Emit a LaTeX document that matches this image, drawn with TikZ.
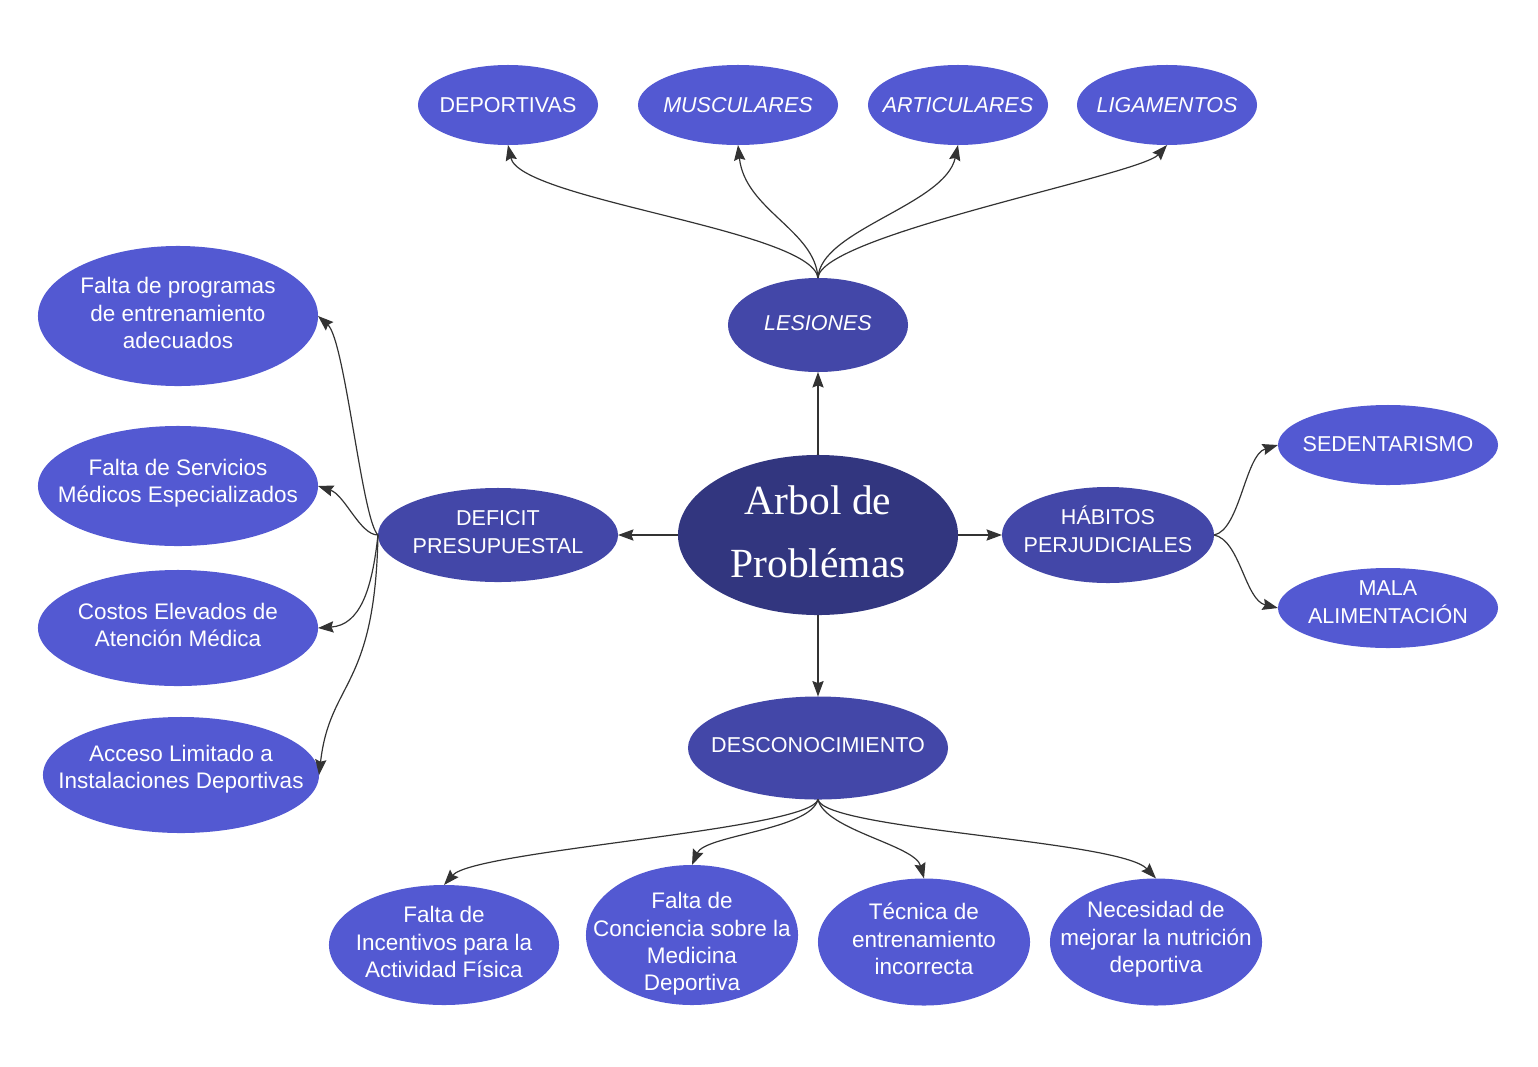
\documentclass[tikz,border=0pt]{standalone}
\usepackage{fontspec}
\setmainfont{Liberation Sans}
\newfontfamily\rootfont{Liberation Serif}
\usetikzlibrary{shapes.geometric,arrows.meta}
\definecolor{leafblue}{HTML}{5359D2}
\definecolor{midblue}{HTML}{4347A8}
\definecolor{rootblue}{HTML}{32367F}
\definecolor{edgegray}{HTML}{333333}
\begin{document}
\begin{tikzpicture}[x=0.025cm,y=-0.025cm,
  blob/.style={ellipse,draw=none,inner sep=0pt,outer sep=0pt},
  leaf/.style={blob,fill=leafblue},
  mid/.style={blob,fill=midblue},
  rootblob/.style={blob,fill=rootblue},
  captxt/.style={text=white,align=center,font=\fontsize{15.3}{19.5}\selectfont},
  txt/.style={captxt,yshift=2pt,font=\fontsize{16}{19.5}\selectfont},
  roottxt/.style={txt,font=\rootfont\fontsize{29.5}{44.8}\selectfont},
  link/.style={draw=edgegray,line width=0.85pt,-{Stealth[length=11pt,width=8pt,inset=1.5pt]}}]
\useasboundingbox (0,0) rectangle (1538,1066);
\node[rootblob,minimum width=7cm,minimum height=4cm,label={[roottxt]center:{Arbol de\\Problémas}}] (root) at (818,535) {};
\node[mid,minimum width=4.5cm,minimum height=2.35cm,label={[captxt,yshift=1.5pt]center:\textit{LESIONES}}] (lesiones) at (818,325) {};
\node[mid,minimum width=6cm,minimum height=2.35cm,label={[captxt,yshift=2pt]center:{DEFICIT\\PRESUPUESTAL}}] (deficit) at (498,535) {};
\node[mid,minimum width=5.3cm,minimum height=2.4cm,label={[captxt,yshift=4pt]center:{HÁBITOS\\PERJUDICIALES}}] (habitos) at (1108,535) {};
\node[mid,minimum width=6.5cm,minimum height=2.575cm,label={[captxt,yshift=2pt]center:DESCONOCIMIENTO}] (descon) at (818,748) {};
\node[leaf,minimum width=4.5cm,minimum height=2cm,label={[captxt]center:DEPORTIVAS}] (deportivas) at (508,105) {};
\node[leaf,minimum width=5cm,minimum height=2cm,label={[captxt]center:\textit{MUSCULARES}}] (musculares) at (738,105) {};
\node[leaf,minimum width=4.5cm,minimum height=2cm,label={[captxt]center:\textit{ARTICULARES}}] (articulares) at (958,105) {};
\node[leaf,minimum width=4.5cm,minimum height=2cm,label={[captxt]center:\textit{LIGAMENTOS}}] (ligamentos) at (1167,105) {};
\node[leaf,minimum width=5.5cm,minimum height=2cm,label={[captxt,yshift=1pt]center:SEDENTARISMO}] (sedentarismo) at (1388,445) {};
\node[leaf,minimum width=5.5cm,minimum height=2cm,label={[captxt,yshift=4pt]center:{MALA\\ALIMENTACIÓN}}] (mala) at (1388,608) {};
\node[leaf,minimum width=7cm,minimum height=3.5cm,label={[txt]center:{Falta de programas\\de entrenamiento\\adecuados}}] (programas) at (178,316) {};
\node[leaf,minimum width=7cm,minimum height=3cm,label={[txt]center:{Falta de Servicios\\Médicos Especializados}}] (servicios) at (178,486) {};
\node[leaf,minimum width=7cm,minimum height=2.9cm,label={[txt]center:{Costos Elevados de\\Atención Médica}}] (costos) at (178,628) {};
\node[leaf,minimum width=6.9cm,minimum height=2.9cm,label={[txt,yshift=2pt]center:{Acceso Limitado a\\Instalaciones Deportivas}}] (acceso) at (181,775) {};
\node[leaf,minimum width=5.75cm,minimum height=3cm,label={[txt]center:{Falta de\\Incentivos para la\\Actividad Física}}] (incentivos) at (444,945) {};
\node[leaf,minimum width=5.3cm,minimum height=3.5cm,label={[txt,yshift=-8.4pt]center:{Falta de\\Conciencia sobre la\\Medicina\\Deportiva}}] (conciencia) at (692,935) {};
\node[leaf,minimum width=5.3cm,minimum height=3.175cm,label={[txt]center:{Técnica de\\entrenamiento\\incorrecta}}] (tecnica) at (924,942) {};
\node[leaf,minimum width=5.3cm,minimum height=3.175cm,label={[txt]center:{Necesidad de\\mejorar la nutrición\\deportiva}}] (necesidad) at (1156,942) {};
\draw[link] (root.north) -- (lesiones.south);
\draw[link] (root.west) -- (deficit.east);
\draw[link] (root.east) -- (habitos.west);
\draw[link] (root.south) -- (descon.north);
\draw[link] (lesiones.north) .. controls (812,230) and (520,200) .. (deportivas.south);
\draw[link] (lesiones.north) .. controls (815,230) and (745,210) .. (musculares.south);
\draw[link] (lesiones.north) .. controls (820,230) and (945,205) .. (articulares.south);
\draw[link] (lesiones.north) .. controls (820,235) and (1140,175) .. (ligamentos.south);
\draw[link] (deficit.west) .. controls (362,520) and (345,340) .. (programas.east);
\draw[link] (deficit.west) .. controls (360,535) and (345,495) .. (servicios.east);
\draw[link] (deficit.west) .. controls (372,590) and (360,625) .. (costos.east);
\draw[link] (deficit.west) .. controls (375,690) and (330,680) .. (acceso.east);
\draw[link] (habitos.east) .. controls (1240,530) and (1245,455) .. (sedentarismo.west);
\draw[link] (habitos.east) .. controls (1240,540) and (1245,600) .. (mala.west);
\draw[link] (descon.south) .. controls (810,830) and (475,850) .. (incentivos.north);
\draw[link] (descon.south) .. controls (810,830) and (705,835) .. (conciencia.north);
\draw[link] (descon.south) .. controls (825,830) and (915,845) .. (tecnica.north);
\draw[link] (descon.south) .. controls (825,830) and (1120,840) .. (necesidad.north);
\end{tikzpicture}
\end{document}
